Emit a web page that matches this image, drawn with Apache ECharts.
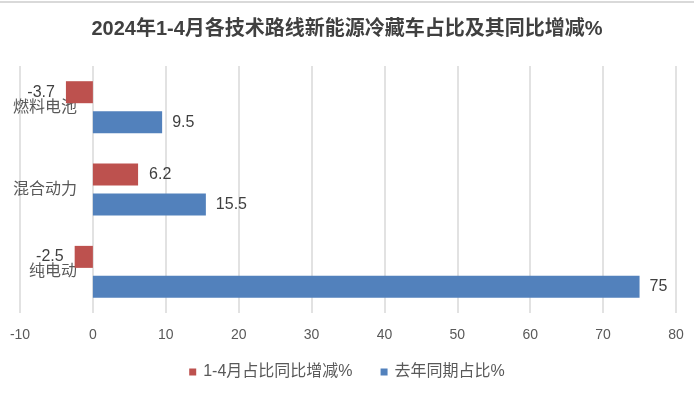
<!DOCTYPE html>
<html>
<head>
<meta charset="utf-8">
<script src="https://cdn.jsdelivr.net/npm/echarts@6/dist/echarts.min.js"></script>
<style>html,body{margin:0;padding:0;background:#fff;}#c{width:694px;height:396px;}</style>
</head>
<body>
<div id="c"></div>
<script>
var titleText = '2024年1-4月各技术路线新能源冷藏车占比及其同比增减%';
var categories = ['燃料电池', '混合动力', '纯电动'];
var seriesNames = ['1-4月占比同比增减%', '去年同期占比%'];
var changeValues = [-3.7, 6.2, -2.5];
var lastYearShare = [9.5, 15.5, 75];
var xTicks = { min: -10, max: 80, interval: 10 };

var FONT = '"Liberation Sans", "Noto Sans CJK SC", sans-serif';
var chart = echarts.init(document.getElementById('c'), null, { renderer: 'canvas' });

function withLabelSide(arr) {
  return arr.map(function (v) {
    return { value: v, label: { position: v < 0 ? 'left' : 'right' } };
  });
}

chart.setOption({
  animation: false,
  backgroundColor: '#ffffff',
  textStyle: { fontFamily: FONT },
  title: {
    text: titleText,
    left: 'center',
    top: 14,
    textStyle: { fontSize: 20, fontWeight: 'bold', color: '#404040', fontFamily: FONT }
  },
  graphic: [{
    type: 'line',
    shape: { x1: 0, y1: 2, x2: 694, y2: 2 },
    style: { stroke: '#d9d9d9', lineWidth: 2 }
  }],
  legend: {
    data: seriesNames,
    bottom: 11,
    left: 'center',
    itemWidth: 7,
    itemHeight: 7,
    itemGap: 28,
    icon: 'rect',
    textStyle: { fontSize: 16, color: '#595959', fontFamily: FONT, padding: [0, 0, 0, 2] }
  },
  grid: { left: 20, right: 18, top: 66, bottom: 83, containLabel: false, outerBoundsMode: 'none' },
  xAxis: {
    type: 'value',
    min: xTicks.min,
    max: xTicks.max,
    interval: xTicks.interval,
    axisLine: { show: false },
    axisTick: { show: false },
    splitLine: { show: true, lineStyle: { color: '#d9d9d9', width: 1.5 } },
    axisLabel: { fontSize: 14, color: '#595959', margin: 15, fontFamily: FONT }
  },
  yAxis: {
    type: 'category',
    data: categories,
    inverse: true,
    offset: -73,
    axisLine: { show: false },
    axisTick: { show: false },
    splitLine: { show: false },
    axisLabel: { fontSize: 16, color: '#595959', margin: 16, fontFamily: FONT }
  },
  series: [{
    name: seriesNames[0],
    type: 'bar',
    data: withLabelSide(changeValues),
    barWidth: 22,
    barGap: '36%',
    itemStyle: { color: '#BD514E' },
    label: { show: true, distance: 11, fontSize: 16, color: '#404040', fontFamily: FONT }
  }, {
    name: seriesNames[1],
    type: 'bar',
    data: withLabelSide(lastYearShare),
    barWidth: 22,
    barGap: '36%',
    itemStyle: { color: '#5281BC' },
    label: { show: true, distance: 10, fontSize: 16, color: '#404040', fontFamily: FONT }
  }]
});
</script>
</body>
</html>
